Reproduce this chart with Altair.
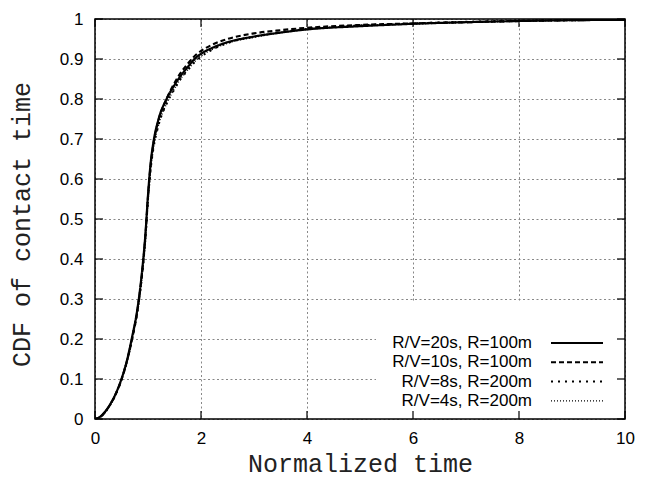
import altair as alt
import pandas as pd

labels = ["R/V=20s, R=100m", "R/V=10s, R=100m", "R/V=8s, R=200m", "R/V=4s, R=200m"]

t = [0, 0.1, 0.2, 0.3, 0.4, 0.5, 0.6, 0.7, 0.8, 0.9, 0.95, 1.0, 1.05, 1.1, 1.2,
     1.35, 1.5, 1.6, 1.75, 1.9, 2.0, 2.25, 2.5, 3.0, 3.5, 4.0, 5.0, 6.0, 7.0, 8.0, 9.0, 10.0]
cdf_20s = [0, 0.006, 0.02, 0.04, 0.066, 0.1, 0.145, 0.205, 0.275, 0.385, 0.46, 0.56, 0.64, 0.69, 0.75,
           0.80, 0.835, 0.855, 0.88, 0.903, 0.913, 0.93, 0.942, 0.956, 0.966, 0.974, 0.982, 0.988, 0.992, 0.995, 0.997, 0.998]
cdf_10s = [0, 0.005, 0.019, 0.039, 0.065, 0.099, 0.143, 0.2, 0.27, 0.38, 0.455, 0.555, 0.635, 0.685, 0.748,
           0.80, 0.84, 0.862, 0.888, 0.91, 0.92, 0.938, 0.95, 0.964, 0.972, 0.978, 0.985, 0.989, 0.992, 0.995, 0.997, 0.998]
cdf_8s = [0, 0.005, 0.018, 0.038, 0.064, 0.098, 0.142, 0.2, 0.27, 0.375, 0.45, 0.55, 0.625, 0.675, 0.735,
          0.788, 0.825, 0.847, 0.872, 0.895, 0.906, 0.926, 0.94, 0.956, 0.967, 0.975, 0.984, 0.989, 0.993, 0.996, 0.997, 0.998]
cdf_4s = [0, 0.005, 0.019, 0.039, 0.065, 0.099, 0.143, 0.202, 0.272, 0.378, 0.452, 0.552, 0.628, 0.678, 0.738,
          0.79, 0.827, 0.849, 0.874, 0.897, 0.908, 0.927, 0.94, 0.955, 0.966, 0.974, 0.983, 0.988, 0.992, 0.995, 0.997, 0.998]

x_ticks = [0, 2, 4, 6, 8, 10]
y_ticks = [0, 0.1, 0.2, 0.3, 0.4, 0.5, 0.6, 0.7, 0.8, 0.9, 1]

series_vals = [cdf_20s, cdf_10s, cdf_8s, cdf_4s]
rows = []
for lab, vals in zip(labels, series_vals):
    for ti, v in zip(t, vals):
        rows.append({"t": ti, "F": v, "series": lab})
df = pd.DataFrame(rows)

W, H = 530, 400
dashes = [[1, 0], [5, 3], [2, 5], [1, 2]]
widths = [2.2, 2.0, 2.0, 1.3]

x_scale = alt.Scale(domain=[0, 10], nice=False)
y_scale = alt.Scale(domain=[0, 1], nice=False)

grid_kw = dict(grid=True, gridColor="#888888", gridDash=[2, 2.5], gridWidth=1,
               ticks=False, tickSize=0, domain=False, labelColor="black",
               labelFont="Liberation Sans", labelFontSize=17, labelFlush=False,
               titleFont="Liberation Mono", titleFontSize=25, titleFontWeight="normal",
               titleColor="#222222")

x_axis = alt.Axis(values=x_ticks, format="d", title="Normalized time",
                  labelPadding=11, titleY=52, titleBaseline="alphabetic", **grid_kw)
y_axis = alt.Axis(values=y_ticks, format="~g", title="CDF of contact time",
                  labelPadding=12, titleX=-66, titleY=205, titleBaseline="alphabetic", **grid_kw)

lines = alt.Chart(df).mark_line(interpolate="monotone", color="black", clip=True).encode(
    x=alt.X("t:Q", scale=x_scale, axis=x_axis),
    y=alt.Y("F:Q", scale=y_scale, axis=y_axis),
    strokeDash=alt.StrokeDash("series:N", scale=alt.Scale(domain=labels, range=dashes), legend=None),
    strokeWidth=alt.StrokeWidth("series:N", scale=alt.Scale(domain=labels, range=widths), legend=None),
)

one = pd.DataFrame({"k": [0]})
legend_bg = alt.Chart(one).mark_rect(color="white").encode(
    x=alt.value(281), x2=alt.value(530), y=alt.value(284), y2=alt.value(400))

xt = pd.DataFrame({"t": x_ticks})
yt = pd.DataFrame({"F": y_ticks})
tick_style = dict(color="black", strokeWidth=1.2)
tb = alt.Chart(xt).mark_rule(**tick_style).encode(
    x=alt.X("t:Q", scale=x_scale, axis=x_axis), y=alt.value(H), y2=alt.value(H - 8))
tt = alt.Chart(xt).mark_rule(**tick_style).encode(
    x=alt.X("t:Q", scale=x_scale, axis=x_axis), y=alt.value(0), y2=alt.value(8))
tl = alt.Chart(yt).mark_rule(**tick_style).encode(
    y=alt.Y("F:Q", scale=y_scale, axis=y_axis), x=alt.value(0), x2=alt.value(8))
tr = alt.Chart(yt).mark_rule(**tick_style).encode(
    y=alt.Y("F:Q", scale=y_scale, axis=y_axis), x=alt.value(W), x2=alt.value(W - 8))

border = alt.Chart(one).mark_rect(fillOpacity=0, stroke="black", strokeWidth=1.5).encode(
    x=alt.value(0), x2=alt.value(W), y=alt.value(0), y2=alt.value(H))

legend_layers = []
for i, lab in enumerate(labels):
    ly = 324 + 19.3 * i
    legend_layers.append(
        alt.Chart(pd.DataFrame({"label": [lab]})).mark_text(
            align="right", baseline="middle", font="Liberation Sans", fontSize=17, color="black"
        ).encode(x=alt.value(437), y=alt.value(ly), text="label:N"))
    legend_layers.append(
        alt.Chart(one).mark_rule(color="black", strokeDash=dashes[i], strokeWidth=widths[i]).encode(
            x=alt.value(456), x2=alt.value(508), y=alt.value(ly)))

chart = alt.layer(legend_bg, lines, tb, tt, tl, tr, border, *legend_layers).properties(
    width=W, height=H,
    padding={"left": 87, "top": 11, "right": 19, "bottom": 62},
    autosize=alt.AutoSizeParams(type="none"),
).configure_view(stroke=None)

chart.save("out.html", embed_options={"renderer": "svg", "actions": False})
